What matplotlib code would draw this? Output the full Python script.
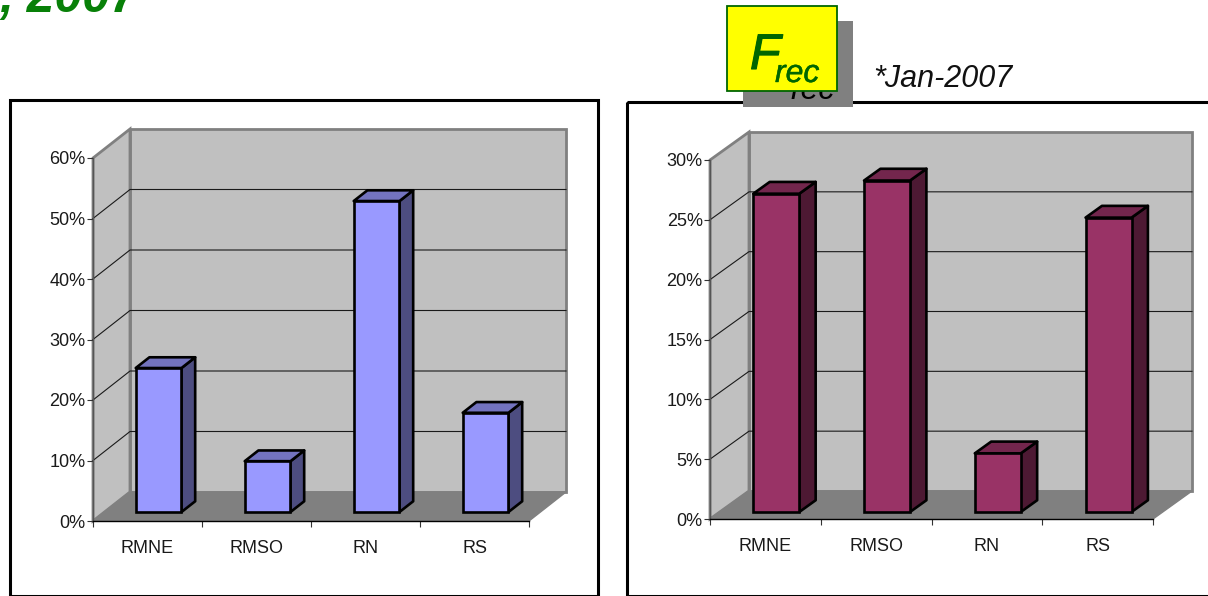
import matplotlib
matplotlib.use('Agg')
import matplotlib.pyplot as plt
import matplotlib.patheffects as pe
from matplotlib.patches import Polygon, Rectangle

plt.rcParams['font.family'] = ['Liberation Sans']

W = 1208
H = 596

categories = ['RMNE', 'RMSO', 'RN', 'RS']
left_values = [23.8, 8.4, 51.4, 16.4]
right_values = [26.6, 27.7, 4.9, 24.6]
left_ticks = [0, 10, 20, 30, 40, 50, 60]
right_ticks = [0, 5, 10, 15, 20, 25, 30]


# draws one fake 3d column chart, box is left, top, right, bottom of the front plane in pixels
def chart_3d(box, values, ticks, depth, colors, bar_front, bar_depth, bar_width, label_pad):
    x0, y0, x1, y1 = box
    ax = fig.add_axes([x0 / W, 1 - y1 / H, (x1 - x0) / W, (y1 - y0) / H])
    ymax = ticks[-1]
    ax.set_xlim(0, len(values))
    ax.set_ylim(0, ymax)
    ax.patch.set_visible(False)
    # depth in data units
    dx = depth[0] / ((x1 - x0) / len(values))
    dy = depth[1] / ((y1 - y0) / ymax)

    back = [(dx, dy), (len(values) + dx, dy), (len(values) + dx, ymax + dy), (dx, ymax + dy)]
    ax.add_patch(Polygon(back, fc='#c0c0c0', ec='#808080', lw=2.0, zorder=1, clip_on=False))
    side = [(0, 0), (dx, dy), (dx, ymax + dy), (0, ymax)]
    ax.add_patch(Polygon(side, fc='#c0c0c0', ec='#808080', lw=2.0, zorder=1, clip_on=False))
    floor = [(0, 0), (len(values), 0), (len(values) + dx, dy), (dx, dy)]
    ax.add_patch(Polygon(floor, fc='#808080', ec='#808080', lw=1, zorder=1.5, clip_on=False))

    for t in ticks[1:-1]:
        ax.plot([0, dx, len(values) + dx], [t, t + dy, t + dy], color='#1a1a1a', lw=0.8, zorder=2, clip_on=False)

    ox = bar_front[0] * dx
    oy = bar_front[1] * dy
    sx = bar_depth * dx
    sy = bar_depth * dy
    centers = [i + 0.5 + ox for i in range(len(values))]
    half = bar_width / 2
    for c, v in zip(centers, values):
        side_face = [(c + half, oy), (c + half + sx, oy + sy), (c + half + sx, oy + v + sy), (c + half, oy + v)]
        top_face = [(c - half, oy + v), (c + half, oy + v), (c + half + sx, oy + v + sy), (c - half + sx, oy + v + sy)]
        ax.add_patch(Polygon(side_face, fc=colors[2], ec='black', lw=1.9, joinstyle='round', zorder=3, clip_on=False))
        ax.add_patch(Polygon(top_face, fc=colors[1], ec='black', lw=1.9, joinstyle='round', zorder=3, clip_on=False))
    ax.bar(centers, values, width=bar_width, bottom=oy, color=colors[0], edgecolor='black', linewidth=1.9, zorder=4, clip_on=False)

    for s in ['top', 'right']:
        ax.spines[s].set_visible(False)
    ax.spines['left'].set_color('#555555')
    ax.spines['left'].set_linewidth(1.0)
    ax.spines['bottom'].set_color('black')
    ax.spines['bottom'].set_linewidth(1.0)
    ax.spines['left'].set_zorder(2.5)
    ax.spines['bottom'].set_zorder(2.5)

    ax.set_yticks(ticks)
    ax.set_yticklabels([str(t) + '%' for t in ticks], fontsize=13, color='#1a1a1a')
    ax.set_xticks(range(len(values) + 1))
    ax.set_xticklabels([])
    ax.set_xticks([i + 0.5 for i in range(len(values))], minor=True)
    ax.set_xticklabels(categories, minor=True, fontsize=13, color='#1a1a1a')
    ax.tick_params(axis='y', length=4.3, width=0.8, color='#333333', pad=1)
    ax.tick_params(axis='x', which='major', length=4.6, width=0.8, color='#333333')
    ax.tick_params(axis='x', which='minor', length=0, pad=label_pad)
    return ax


fig = plt.figure(figsize=(W / 100, H / 100), dpi=100, facecolor='white')

# overlay in pixel coords for frames and the labels around the charts
ov = fig.add_axes([0, 0, 1, 1], zorder=5)
ov.set_xlim(0, W)
ov.set_ylim(H, 0)
ov.axis('off')
ov.patch.set_visible(False)

ov.add_patch(Rectangle((10, 100), 587.5, 495.5, fc='none', ec='black', lw=2.2, zorder=1))
ov.add_patch(Rectangle((626.5, 101.5), 700, 494, fc='none', ec='black', lw=2.2, zorder=1))

ov.text(-1, 12, ', 2007', fontsize=36, color='#088008', fontweight='bold', fontstyle='italic', va='baseline', ha='left', zorder=2)

ov.add_patch(Rectangle((743, 21), 110, 86, fc='#808080', ec='none', zorder=2))
ov.text(790, 99, 'rec', fontsize=23, fontstyle='italic', color='black', va='baseline', zorder=3)
ov.add_patch(Rectangle((726.5, 5.5), 110, 85.5, fc='#ffff00', ec='#006600', lw=1.3, zorder=4))
ov.text(750, 69, 'F', fontsize=36, fontstyle='italic', color='#006600', va='baseline', zorder=5,
        path_effects=[pe.withStroke(linewidth=0.8, foreground='#006600')])
ov.text(775, 82, 'rec', fontsize=23, fontstyle='italic', color='#006600', va='baseline', zorder=5,
        path_effects=[pe.withStroke(linewidth=0.3, foreground='#006600')])
ov.text(873, 87, '*Jan-2007', fontsize=22, fontstyle='italic', color='#111111', va='baseline', zorder=5)

chart_3d((93, 158, 529, 521), left_values, left_ticks, (37, 29),
         ('#9999ff', '#7373bf', '#4d4d80'), (0.3, 0.31), 0.37, 0.42, 14)
chart_3d((710, 160, 1153, 519), right_values, right_ticks, (39, 28),
         ('#993366', '#73264d', '#4d1933'), (0.28, 0.25), 0.42, 0.415, 14)

fig.savefig('out.png', dpi=100)
